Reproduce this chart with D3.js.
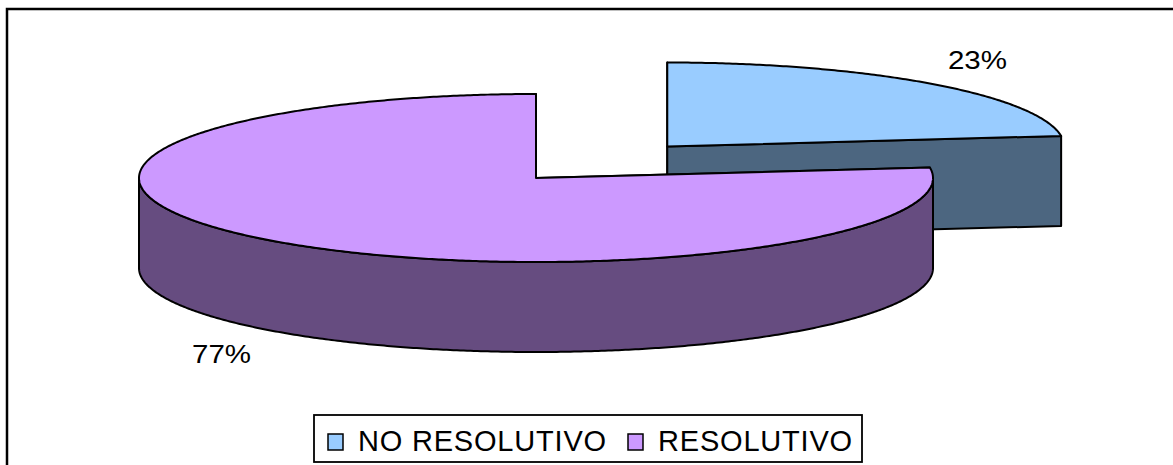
<!DOCTYPE html>
<html>
<head>
<meta charset="utf-8">
<script src="https://cdn.jsdelivr.net/npm/d3@7"></script>
<style>
  html, body { margin: 0; padding: 0; background: #ffffff; }
  svg { display: block; }
  text { font-family: "Liberation Sans", Arial, sans-serif; fill: #000; }
</style>
</head>
<body>
<svg id="chart" width="1173" height="465"></svg>
<script>
// Category data
const categories = ["NO RESOLUTIVO", "RESOLUTIVO"];
const values = [23, 77];
const valueLabels = ["23%", "77%"];
const topColors = ["#99CCFF", "#CC99FF"];
const sideColors = ["#4C6680", "#664C80"];
const explode = [0.5, 0];

// 3-D pie layout (pixels)
const W = 1173, H = 465;
const cx = 536, cy = 178, rx = 397, ry = 84, depth = 90;
// label baselines in ellipse units relative to the pie centre
const labelAnchors = [[1.112, 1.292], [-0.792, -2.202]];

const svg = d3.select("#chart");

// outer chart frame (runs past right/bottom edges)
svg.append("rect")
  .attr("x", 7).attr("y", 9)
  .attr("width", W + 20).attr("height", H + 20)
  .attr("fill", "#fff").attr("stroke", "#000").attr("stroke-width", 2.5);

// unit ellipse -> pixel scales
const sx = d3.scaleLinear().domain([-1, 1]).range([cx - rx, cx + rx]);
const sy = d3.scaleLinear().domain([-1, 1]).range([cy + ry, cy - ry]);

const pie = d3.pie().sort(null).value(d => d);
const arcs = pie(values);

const line = d3.line();
const STEP = Math.PI / 360;

function pt(theta, ox, oy, dz) {
  return [sx(Math.cos(theta) + ox), sy(Math.sin(theta) + oy) + dz];
}
function arcPts(t0, t1, ox, oy, dz) {
  const n = Math.max(2, Math.ceil(Math.abs(t1 - t0) / STEP));
  return d3.range(n + 1).map(i => pt(t0 + (t1 - t0) * i / n, ox, oy, dz));
}

const slices = arcs.map((a, i) => {
  const t0 = Math.PI / 2 - a.startAngle;   // math angle, counter-clockwise
  const t1 = Math.PI / 2 - a.endAngle;
  const tm = (t0 + t1) / 2;
  const ox = explode[i] * Math.cos(tm);
  const oy = explode[i] * Math.sin(tm);
  return { i, t0, t1, ox, oy };
});

const style = sel => sel.attr("stroke", "#000").attr("stroke-width", 2)
  .attr("stroke-linejoin", "round");

// draw back (exploded) slice first, then the front one
const order = [0, 1];
order.forEach(k => {
  const s = slices[k];
  const g = svg.append("g");
  const c = [sx(s.ox), sy(s.oy)];

  // radial cut faces
  [s.t0, s.t1].forEach(t => {
    const r = pt(t, s.ox, s.oy, 0);
    g.append("path")
      .attr("d", line([c, r, [r[0], r[1] + depth], [c[0], c[1] + depth]]) + "Z")
      .attr("fill", sideColors[k]).call(style);
  });

  // front part of the outer rim
  const lo = Math.min(s.t0, s.t1), hi = Math.max(s.t0, s.t1);
  [0, -2 * Math.PI, 2 * Math.PI].forEach(off => {
    const a = Math.max(lo, -Math.PI + off), b = Math.min(hi, off);
    if (b > a) {
      const top = arcPts(a, b, s.ox, s.oy, 0);
      const bot = arcPts(b, a, s.ox, s.oy, depth);
      g.append("path")
        .attr("d", line(top.concat(bot)) + "Z")
        .attr("fill", sideColors[k]).call(style);
    }
  });

  // top face
  const topPts = [c].concat(arcPts(s.t0, s.t1, s.ox, s.oy, 0));
  g.append("path")
    .attr("d", line(topPts) + "Z")
    .attr("fill", topColors[k]).call(style);
});

// percentage labels (slightly widened type)
valueLabels.forEach((t, i) => {
  const lx = sx(labelAnchors[i][0]), ly = sy(labelAnchors[i][1]);
  svg.append("text")
    .attr("transform", `translate(${lx},${ly}) scale(1.18,1)`)
    .attr("text-anchor", "middle")
    .attr("font-size", 25)
    .text(t);
});

// legend
const lg = svg.append("g");
lg.append("rect")
  .attr("x", 314).attr("y", 415).attr("width", 548).attr("height", 47)
  .attr("fill", "#fff").attr("stroke", "#000").attr("stroke-width", 1.8);
const legendX = [328, 628];
categories.forEach((name, i) => {
  lg.append("rect")
    .attr("x", legendX[i]).attr("y", 434).attr("width", 15).attr("height", 16)
    .attr("fill", topColors[i]).attr("stroke", "#000").attr("stroke-width", 1.5);
  lg.append("text")
    .attr("x", legendX[i] + 30).attr("y", 451)
    .attr("font-size", 29)
    .attr("letter-spacing", 0.8)
    .text(name);
});
</script>
</body>
</html>
